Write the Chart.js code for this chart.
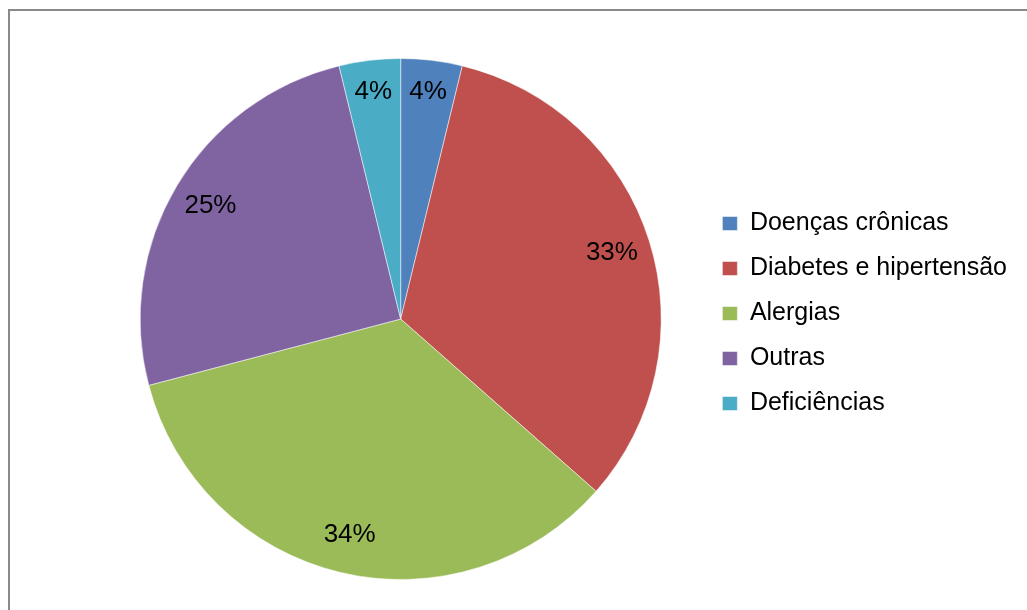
<!DOCTYPE html>
<html lang="pt-BR">
<head>
<meta charset="utf-8">
<title>Doenças</title>
<style>
  html, body { margin: 0; padding: 0; background: #fff; overflow: hidden; }
  .frame {
    position: absolute; left: 8px; top: 9px;
    width: 1040px; height: 620px;
    border: 2px solid #898989;
  }
  .chart {
    position: absolute; left: 0; top: 0;
    width: 1027px; height: 610px;
  }
</style>
</head>
<body>
<div class="frame"></div>
<div class="chart"><canvas id="myChart"></canvas></div>

<script src="https://cdn.jsdelivr.net/npm/chart.js"></script>
<script>
// categorias e valores (%)
const categorias = ['Doenças crônicas', 'Diabetes e hipertensão', 'Alergias', 'Outras', 'Deficiências'];
const valores = [3.8, 32.7, 34.4, 25.3, 3.8];
const cores = ['#4F81BD', '#C0504D', '#9BBB59', '#8064A2', '#4BACC6'];

const fonte = 'Liberation Sans, Arial, sans-serif';

// escreve o percentual dentro de cada fatia
const rotulos = {
  id: 'rotulos',
  afterDatasetsDraw(chart) {
    const ctx = chart.ctx;
    const meta = chart.getDatasetMeta(0);
    const total = valores.reduce((a, b) => a + b, 0);
    ctx.save();
    ctx.font = '26px ' + fonte;
    ctx.fillStyle = '#000';
    ctx.textAlign = 'center';
    ctx.textBaseline = 'middle';
    meta.data.forEach((arc, i) => {
      const p = arc.getProps(['x', 'y', 'startAngle', 'endAngle', 'outerRadius'], true);
      const meio = (p.startAngle + p.endAngle) / 2;
      const f = valores[i] < 10 ? 0.88 : 0.85;
      const x = p.x + Math.cos(meio) * p.outerRadius * f;
      const y = p.y + Math.sin(meio) * p.outerRadius * f;
      ctx.fillText(Math.round(valores[i] / total * 100) + '%', x, y);
    });
    ctx.restore();
  }
};

const ctx = document.getElementById('myChart');
new Chart(ctx, {
  type: 'pie',
  data: {
    labels: categorias,
    datasets: [{
      data: valores,
      backgroundColor: cores,
      borderColor: 'rgba(255,255,255,0.5)',
      borderWidth: 1
    }]
  },
  options: {
    responsive: true,
    maintainAspectRatio: false,
    animation: false,
    layout: { padding: { left: 99, top: 58, bottom: 30, right: 10 } },
    plugins: {
      tooltip: { enabled: false },
      legend: {
        position: 'right',
        align: 'start',
        // título vazio só para descer a legenda
        title: { display: true, text: ' ', padding: 0, font: { size: 10, lineHeight: 13.3 } },
        labels: {
          boxWidth: 15,
          boxHeight: 14,
          padding: 20,
          color: '#000',
          font: { family: fonte, size: 25 }
        }
      }
    }
  },
  plugins: [rotulos]
});
</script>
</body>
</html>
